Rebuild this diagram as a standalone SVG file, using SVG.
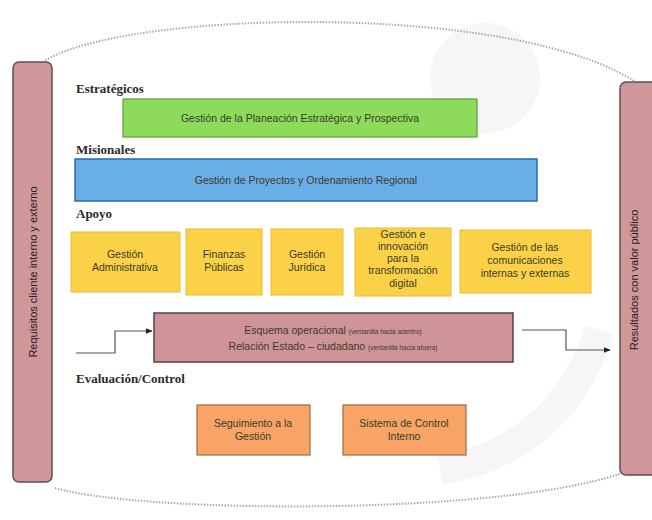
<svg xmlns="http://www.w3.org/2000/svg" width="652" height="520" viewBox="0 0 652 520">
<defs>
<style>
.head{font-family:"Liberation Serif","DejaVu Serif",serif;font-weight:bold;font-size:13px;fill:#2a2a2a}
.lbl{font-family:"Liberation Sans","DejaVu Sans",sans-serif;font-size:10.5px;fill:#3a3a2a;text-anchor:middle}
.small{font-size:6.5px}
.side{font-family:"Liberation Sans","DejaVu Sans",sans-serif;font-size:11px;fill:#2a2020;text-anchor:middle}
.green{fill:#8edb5c;stroke:#5a9e3c;stroke-width:1.2}
.blue{fill:#6aaee8;stroke:#2f6aa0;stroke-width:1.5}
.yellow{fill:#fbd247;stroke:#e8bb3a;stroke-width:1}
.pink{fill:#cf9497;stroke:#5a4040;stroke-width:1.5}
.orange{fill:#f7a466;stroke:#9a6b4a;stroke-width:1.2}
.bar{fill:#d0979a;stroke:#5f5050;stroke-width:1.5}
.conn{fill:none;stroke:#555;stroke-width:1.2}
.dots{fill:none;stroke:#aaa;stroke-width:2;stroke-dasharray:1.5 1.5}
</style>
<marker id="arr" viewBox="0 0 10 10" refX="9" refY="5" markerWidth="6" markerHeight="6" orient="auto">
<path d="M0,1 L10,5 L0,9 Z" fill="#222"/>
</marker>
</defs>
<rect width="652" height="520" fill="#ffffff"/>
<circle cx="485" cy="78" r="55" fill="#f6f6f8"/>
<path d="M600 330 Q 560 450 440 470" fill="none" stroke="#f6f6f8" stroke-width="30"/>
<path class="dots" d="M43 62 C 120 10, 520 0, 640 85"/>
<path class="dots" d="M55 488 C 150 515, 520 515, 630 470"/>

<g id="req">
<rect class="bar" x="13" y="62" width="39" height="420" rx="6"/>
<text class="side" transform="translate(37,272) rotate(-90)">Requisitos cliente interno y externo</text>
</g>
<g id="res">
<rect class="bar" x="620" y="82" width="40" height="393" rx="6"/>
<text class="side" transform="translate(638,280) rotate(-90)">Resultados con valor público</text>
</g>

<text class="head" x="76" y="93">Estratégicos</text>
<text class="head" x="76" y="154">Misionales</text>
<text class="head" x="76" y="218">Apoyo</text>
<text class="head" x="76" y="383">Evaluación/Control</text>

<g id="planeacion">
<rect class="green" x="123" y="99" width="354" height="38"/>
<text class="lbl" x="300" y="122">Gestión de la Planeación Estratégica y Prospectiva</text>
</g>
<g id="proyectos">
<rect class="blue" x="75" y="159" width="462" height="42"/>
<text class="lbl" x="306" y="184">Gestión de Proyectos y Ordenamiento Regional</text>
</g>
<g id="administrativa">
<rect class="yellow" x="71" y="232" width="109" height="60"/>
<text class="lbl" x="125" y="258">Gestión</text>
<text class="lbl" x="125" y="271">Administrativa</text>
</g>
<g id="finanzas">
<rect class="yellow" x="186" y="229" width="76" height="66"/>
<text class="lbl" x="224" y="258">Finanzas</text>
<text class="lbl" x="224" y="271">Públicas</text>
</g>
<g id="juridica">
<rect class="yellow" x="271" y="229" width="72" height="66"/>
<text class="lbl" x="307" y="258">Gestión</text>
<text class="lbl" x="307" y="271">Jurídica</text>
</g>
<g id="innovacion">
<rect class="yellow" x="355" y="228" width="96" height="68"/>
<text class="lbl" x="403" y="238">Gestión e</text>
<text class="lbl" x="403" y="250">innovación</text>
<text class="lbl" x="403" y="262">para la</text>
<text class="lbl" x="403" y="274">transformación</text>
<text class="lbl" x="403" y="287">digital</text>
</g>
<g id="comunicaciones">
<rect class="yellow" x="460" y="230" width="131" height="63"/>
<text class="lbl" x="525" y="251">Gestión de las</text>
<text class="lbl" x="525" y="264">comunicaciones</text>
<text class="lbl" x="525" y="277">internas y externas</text>
</g>
<g id="esquema">
<rect class="pink" x="154" y="313" width="359" height="49"/>
<text class="lbl" x="333" y="334">Esquema operacional <tspan class="small">(ventanilla hacia adentro)</tspan></text>
<text class="lbl" x="333" y="350">Relación Estado – ciudadano <tspan class="small">(ventanilla hacia afuera)</tspan></text>
</g>
<g id="seguimiento">
<rect class="orange" x="197" y="405" width="113" height="50"/>
<text class="lbl" x="253" y="427">Seguimiento a la</text>
<text class="lbl" x="253" y="440">Gestión</text>
</g>
<g id="control">
<rect class="orange" x="343" y="405" width="123" height="50"/>
<text class="lbl" x="404" y="427">Sistema de Control</text>
<text class="lbl" x="404" y="440">Interno</text>
</g>

<g id="connectors">
<path class="conn" d="M76 353 H115 V331 H152" marker-end="url(#arr)"/>
<path class="conn" d="M522 330 H566 V350 H610" marker-end="url(#arr)"/>
</g>
</svg>
